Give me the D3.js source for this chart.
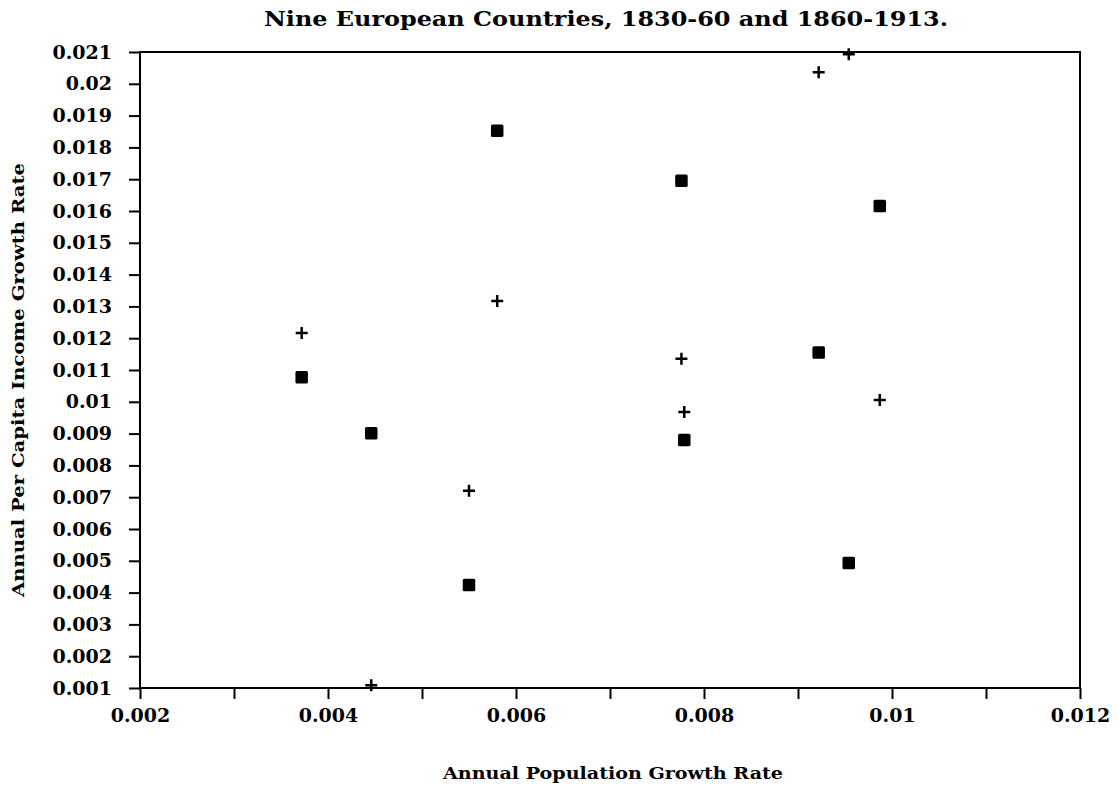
<!DOCTYPE html>
<html>
<head>
<meta charset="utf-8">
<script src="https://cdn.jsdelivr.net/npm/d3@7"></script>
<style>
  html, body { margin: 0; padding: 0; background: #fff; }
  svg { display: block; }
  text { font-family: "DejaVu Serif", "Liberation Serif", serif; font-weight: bold; fill: #000; }
</style>
</head>
<body>
<svg id="chart" width="1118" height="804"></svg>
<script>
// ---- data ----
const titleText = "Nine European Countries, 1830-60 and 1860-1913.";
const xLabel = "Annual Population Growth Rate";
const yLabel = "Annual Per Capita Income Growth Rate";

const popGrowth   = [0.00372, 0.00446, 0.00550, 0.00580, 0.00776, 0.00779, 0.00922, 0.00954, 0.00987];
const incomeSquare = [0.01077, 0.00901, 0.00424, 0.01852, 0.01695, 0.00880, 0.01155, 0.00493, 0.01616];
const incomePlus   = [0.01216, 0.00109, 0.00720, 0.01317, 0.01135, 0.00968, 0.02036, 0.02093, 0.01006];

const xTickValues = [0.002,0.003,0.004,0.005,0.006,0.007,0.008,0.009,0.010,0.011,0.012];
const xTickLabels = ["0.002","","0.004","","0.006","","0.008","","0.01","","0.012"];
const yTickValues = [0.001,0.002,0.003,0.004,0.005,0.006,0.007,0.008,0.009,0.010,0.011,
                     0.012,0.013,0.014,0.015,0.016,0.017,0.018,0.019,0.020,0.021];
const yTickLabels = ["0.001","0.002","0.003","0.004","0.005","0.006","0.007","0.008","0.009","0.01","0.011",
                     "0.012","0.013","0.014","0.015","0.016","0.017","0.018","0.019","0.02","0.021"];

(function () {
// ---- layout ----
const svg = d3.select("#chart");
const mLeft = 140, mRight = 1080, mTop = 52, mBottom = 688;

const x = d3.scaleLinear().domain([0.002, 0.012]).range([mLeft, mRight]);
const y = d3.scaleLinear().domain([0.001, 0.021]).range([mBottom, mTop]);

// frame
svg.append("rect")
  .attr("x", mLeft).attr("y", mTop)
  .attr("width", mRight - mLeft).attr("height", mBottom - mTop)
  .attr("fill", "none").attr("stroke", "#000").attr("stroke-width", 2);

// y axis
const yAxis = d3.axisLeft(y)
  .tickValues(yTickValues)
  .tickSize(11)
  .tickPadding(17)
  .tickFormat((d, i) => yTickLabels[i]);
const gy = svg.append("g").attr("transform", `translate(${mLeft},0)`).call(yAxis);
gy.select(".domain").remove();
gy.selectAll(".tick line").attr("stroke", "#000").attr("stroke-width", 2);
gy.selectAll(".tick text")
  .style("font-family", '"DejaVu Serif", serif')
  .style("font-weight", "bold")
  .style("font-size", "19px")
  .attr("fill", "#000");

// x axis
const xAxis = d3.axisBottom(x)
  .tickValues(xTickValues)
  .tickSize(11)
  .tickPadding(10)
  .tickFormat((d, i) => xTickLabels[i]);
const gx = svg.append("g").attr("transform", `translate(0,${mBottom})`).call(xAxis);
gx.select(".domain").remove();
gx.selectAll(".tick line").attr("stroke", "#000").attr("stroke-width", 2);
gx.selectAll(".tick text")
  .style("font-family", '"DejaVu Serif", serif')
  .style("font-weight", "bold")
  .style("font-size", "19px")
  .attr("fill", "#000");

// title
svg.append("text")
  .attr("x", 606).attr("y", 26)
  .attr("text-anchor", "middle")
  .attr("textLength", 684).attr("lengthAdjust", "spacingAndGlyphs")
  .style("font-size", "20px")
  .text(titleText);

// x label
svg.append("text")
  .attr("x", 613).attr("y", 779)
  .attr("text-anchor", "middle")
  .attr("textLength", 340).attr("lengthAdjust", "spacingAndGlyphs")
  .style("font-size", "17px")
  .text(xLabel);

// y label
svg.append("text")
  .attr("transform", "translate(24,380) rotate(-90)")
  .attr("text-anchor", "middle")
  .attr("textLength", 434).attr("lengthAdjust", "spacingAndGlyphs")
  .style("font-size", "17px")
  .text(yLabel);

// points
const sq = 12.5;
svg.append("g").selectAll("rect")
  .data(popGrowth.map((p, i) => ({ p, v: incomeSquare[i] })))
  .join("rect")
  .attr("x", d => x(d.p) - sq / 2)
  .attr("y", d => y(d.v) - sq / 2)
  .attr("width", sq).attr("height", sq)
  .attr("rx", 1.5)
  .attr("fill", "#000");

svg.append("g").selectAll("path")
  .data(popGrowth.map((p, i) => ({ p, v: incomePlus[i] })))
  .join("path")
  .attr("transform", d => `translate(${x(d.p)},${y(d.v)})`)
  .attr("d", "M-6,0H6M0,-6V6")
  .attr("stroke", "#000")
  .attr("stroke-width", 2.5)
  .attr("fill", "none");
})();
</script>
</body>
</html>
